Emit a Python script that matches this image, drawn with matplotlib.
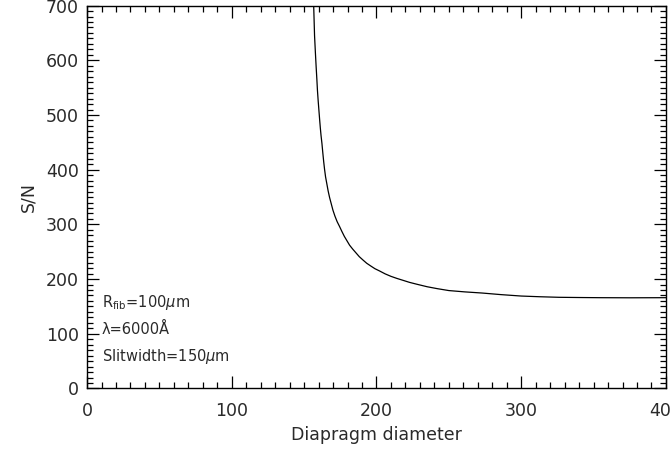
import matplotlib
matplotlib.use("Agg")
import matplotlib.pyplot as plt
from matplotlib.ticker import MultipleLocator

# S/N en fonction du diamètre du diaphragme
diam = [156.6, 157.2, 157.8, 158.3, 158.8, 159.2, 159.7, 160.2, 160.7, 161.2,
        161.7, 162.3, 162.9, 163.5, 164.1, 164.8, 165.7, 166.6, 167.6, 168.7,
        169.9, 171.3, 172.8, 174.5, 176.1, 177.8, 179.6, 181.4, 183.5, 185.8,
        188.1, 190.6, 193.2, 196.0, 198.9, 202.0, 206.0, 210.0, 214.0, 218.0,
        222.8, 228.0, 235.0, 242.0, 250.0, 261.0, 273.0, 286.0, 300.0, 313.0,
        326.0, 340.0, 354.0, 375.0, 400.0]
snr = [700, 645, 613, 588, 565, 545, 526, 509, 492, 476,
       462, 448, 431, 415, 401, 387, 374, 361, 349, 338,
       326, 315, 305, 296, 287, 278, 270, 262, 255, 248,
       241, 235, 229, 224, 219, 215, 209.5, 205, 201.3, 198,
       194, 190.5, 186, 182.5, 179, 176.6, 174.5, 171.6, 169, 167.7,
       166.7, 166.3, 166, 165.8, 166]

annotations = [r"R$_{\rm fib}$=100$\mu$m", "λ=6000Å", r"Slitwidth=150$\mu$m"]

TXT = "#2a2a2a"
plt.rcParams["font.family"] = ["DejaVu Sans"]
plt.rcParams["mathtext.fontset"] = "dejavusans"

fig = plt.figure(figsize=(6.71, 4.5), dpi=100)
ax = fig.add_axes([0.1297, 0.1367, 0.8628, 0.8509])

ax.plot(diam, snr, color="black", linewidth=0.9)

ax.set_xlim(0, 400)
ax.set_ylim(0, 700)
ax.xaxis.set_major_locator(MultipleLocator(100))
ax.xaxis.set_minor_locator(MultipleLocator(10))
ax.yaxis.set_major_locator(MultipleLocator(100))
ax.yaxis.set_minor_locator(MultipleLocator(10))
ax.tick_params(which="both", direction="in", top=True, right=True, width=0.9,
               color="black", labelcolor=TXT)
ax.tick_params(which="major", length=8.4, labelsize=12.5)
ax.tick_params(which="minor", length=4.2)
ax.tick_params(axis="x", which="major", pad=10)
ax.tick_params(axis="y", which="major", pad=6)
for sp in ax.spines.values():
    sp.set_linewidth(1.0)
    sp.set_color("black")

ax.set_xlabel("Diapragm diameter", fontsize=12.5, labelpad=4, color=TXT)
ax.set_ylabel("S/N", fontsize=12.5, labelpad=6, color=TXT)

for i, txt in enumerate(annotations):
    ax.text(0.025, 0.225 - i * 0.071, txt, transform=ax.transAxes,
            fontsize=10.5, va="center", ha="left", color=TXT)

fig.savefig("out.png", dpi=100)
